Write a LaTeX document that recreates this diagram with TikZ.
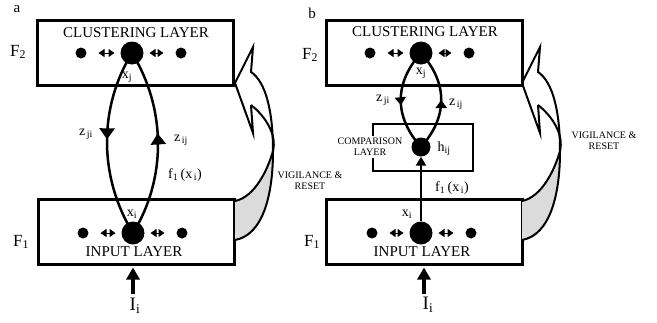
\documentclass[tikz,border=0pt]{standalone}
\usepackage{fontspec}
\setmainfont{Liberation Serif}
\usetikzlibrary{arrows.meta,decorations.markings}

\begin{document}
\begin{tikzpicture}[x=1pt,y=-1pt,
    layer/.style={draw,line width=3pt,minimum width=196pt,minimum height=65pt,inner sep=0pt},
    bigdot/.style={circle,fill,inner sep=0pt,minimum size=23pt},
    smalldot/.style={circle,fill,inner sep=0pt,minimum size=11pt},
    inhib/.style={{Triangle[length=6pt,width=8pt]}-{Triangle[length=6pt,width=8pt]},
      line width=1pt,shorten <=17.5pt,shorten >=17.5pt},
    wire/.style={line width=2.5pt},
    tipa/.style={postaction={decorate,decoration={markings,
      mark=at position #1 with {\arrow{Triangle[length=11pt,width=15pt]}}}}},
    tipb/.style={postaction={decorate,decoration={markings,
      mark=at position #1 with {\arrow{Triangle[length=8pt,width=11pt]}}}}},
    inarr/.style={-{Triangle[length=12pt,width=13pt]},line width=4pt,shorten >=2pt},
    laytxt/.style={font=\fontsize{15}{17}\selectfont},
    flab/.style={font=\fontsize{17}{19}\selectfont},
    sym/.style={font=\fontsize{14}{16}\selectfont,inner sep=0pt},
    tinytxt/.style={font=\fontsize{10}{11}\selectfont,align=center},
    vigil/.pic={
      \fill[gray!28] (273,151) .. controls (273,195) and (263,235) .. (235,240)
        -- (235,201) .. controls (255,197) and (268,169) .. (273,151) -- cycle;
      \draw[line width=2pt] (251,105) -- (253,133) -- (235,83) -- (253,47) -- (251,72)
        .. controls (266,82) and (273,112) .. (273,151)
        .. controls (273,195) and (263,235) .. (235,240);
      \draw[line width=2pt] (251,105) .. controls (265,116) and (277,134) .. (273,151)
        .. controls (268,169) and (255,197) .. (235,201);
    }
  ]
  \path[use as bounding box] (0,0) rectangle (657,322);

  % panel a
  \node[laytxt] (pa) at (17,9) {a};
  \node[layer] (F2a) at (135,52.5) {};
  \node[layer] (F1a) at (136,231.5) {};
  \pic at (0,0) {vigil};
  \node[flab] (f2a) at (18,52) {F\textsubscript{2}};
  \node[flab] (f1a) at (21,242) {F\textsubscript{1}};
  \node[laytxt] (cla) at (136,33) {CLUSTERING LAYER};
  \node[laytxt] (ila) at (134,252) {INPUT LAYER};
  \node[tinytxt] (vra) at (310,181) {VIGILANCE \&\\RESET};

  \node[bigdot] (xja) at (132,53) {};
  \node[bigdot] (xia) at (133,233) {};
  \draw[wire,tipa=0.48] (xja.center) .. controls +(-34,55) and +(-34,-55) .. (xia.center);
  \draw[wire,tipa=0.55] (xia.center) .. controls +(34,-55) and +(34,55) .. (xja.center);
  \node[smalldot] (l2a) at (81,53) {};
  \node[smalldot] (r2a) at (181,53) {};
  \node[smalldot] (l1a) at (83,233) {};
  \node[smalldot] (r1a) at (182,233) {};
  \draw[inhib] (l2a.center) -- (xja.center);
  \draw[inhib] (xja.center) -- (r2a.center);
  \draw[inhib] (l1a.center) -- (xia.center);
  \draw[inhib] (xia.center) -- (r1a.center);

  \node[sym] (xjla) at (127,77) {x\textsubscript{j}};
  \node[sym] (xila) at (132,214) {x\textsubscript{i}};
  \node[sym] (zjia) at (86,134) {z\textsubscript{\,ji}};
  \node[sym] (zija) at (181,140) {z\textsubscript{\,ij}};
  \node[sym] (fxa) at (185,175) {f\textsubscript{1}\,(x\textsubscript{\,i})};

  \coordinate (ina) at (133,294);
  \draw[inarr] (ina) -- (ina |- F1a.south);
  \node[font=\fontsize{19}{21}\selectfont] (Iia) at (135,306) {I\textsubscript{i}};

  % panel b
  \node[laytxt] (pb) at (312,13) {b};
  \node[layer] (F2b) at (424.5,52.5) {};
  \node[layer] (F1b) at (424.5,231.5) {};
  \pic at (287,0) {vigil};
  \node[flab] (f2b) at (310,55) {F\textsubscript{2}};
  \node[flab] (f1b) at (312,242) {F\textsubscript{1}};
  \node[laytxt] (clb) at (425,32) {CLUSTERING LAYER};
  \node[laytxt] (ilb) at (422,252) {INPUT LAYER};
  \node[tinytxt] (vrb) at (604,141) {VIGILANCE \&\\RESET};

  \node[draw,line width=2.5pt,minimum width=100pt,minimum height=47pt,inner sep=0pt]
    (cmpb) at (423,147.5) {};
  \node[tinytxt,fill=white,inner sep=2pt] (cmpl) at (370,147) {COMPARISON\\LAYER};

  \node[bigdot] (xjb) at (421,53) {};
  \node[bigdot] (xib) at (421,233) {};
  \node[circle,fill,inner sep=0pt,minimum size=19pt] (hb) at (421,147) {};
  \draw[wire,tipb=0.55] (xjb.center) .. controls +(-27,30) and +(-27,-30) .. (hb.center);
  \draw[wire,tipb=0.5] (hb.center) .. controls +(27,-30) and +(27,30) .. (xjb.center);
  \draw[-{Triangle[length=9pt,width=10pt]},line width=2.5pt] (xib) -- (hb);
  \node[smalldot] (l2b) at (370,53) {};
  \node[smalldot] (r2b) at (469,53) {};
  \node[smalldot] (l1b) at (372,233) {};
  \node[smalldot] (r1b) at (471,233) {};
  \draw[inhib] (l2b.center) -- (xjb.center);
  \draw[inhib] (xjb.center) -- (r2b.center);
  \draw[inhib] (l1b.center) -- (xib.center);
  \draw[inhib] (xib.center) -- (r1b.center);

  \node[sym] (xjlb) at (421,73) {x\textsubscript{j}};
  \node[sym] (xilb) at (407,214) {x\textsubscript{i}};
  \node[sym] (zjib) at (383,100) {z\textsubscript{\,ji}};
  \node[sym] (zijb) at (456,104) {z\textsubscript{\,ij}};
  \node[sym] (hlb) at (444,149) {h\textsubscript{ij}};
  \node[sym] (fxb) at (452,188) {f\textsubscript{1}\,(x\textsubscript{\,i})};

  \coordinate (inb) at (424,294);
  \draw[inarr] (inb) -- (inb |- F1b.south);
  \node[font=\fontsize{19}{21}\selectfont] (Iib) at (428,305) {I\textsubscript{i}};
\end{tikzpicture}
\end{document}
